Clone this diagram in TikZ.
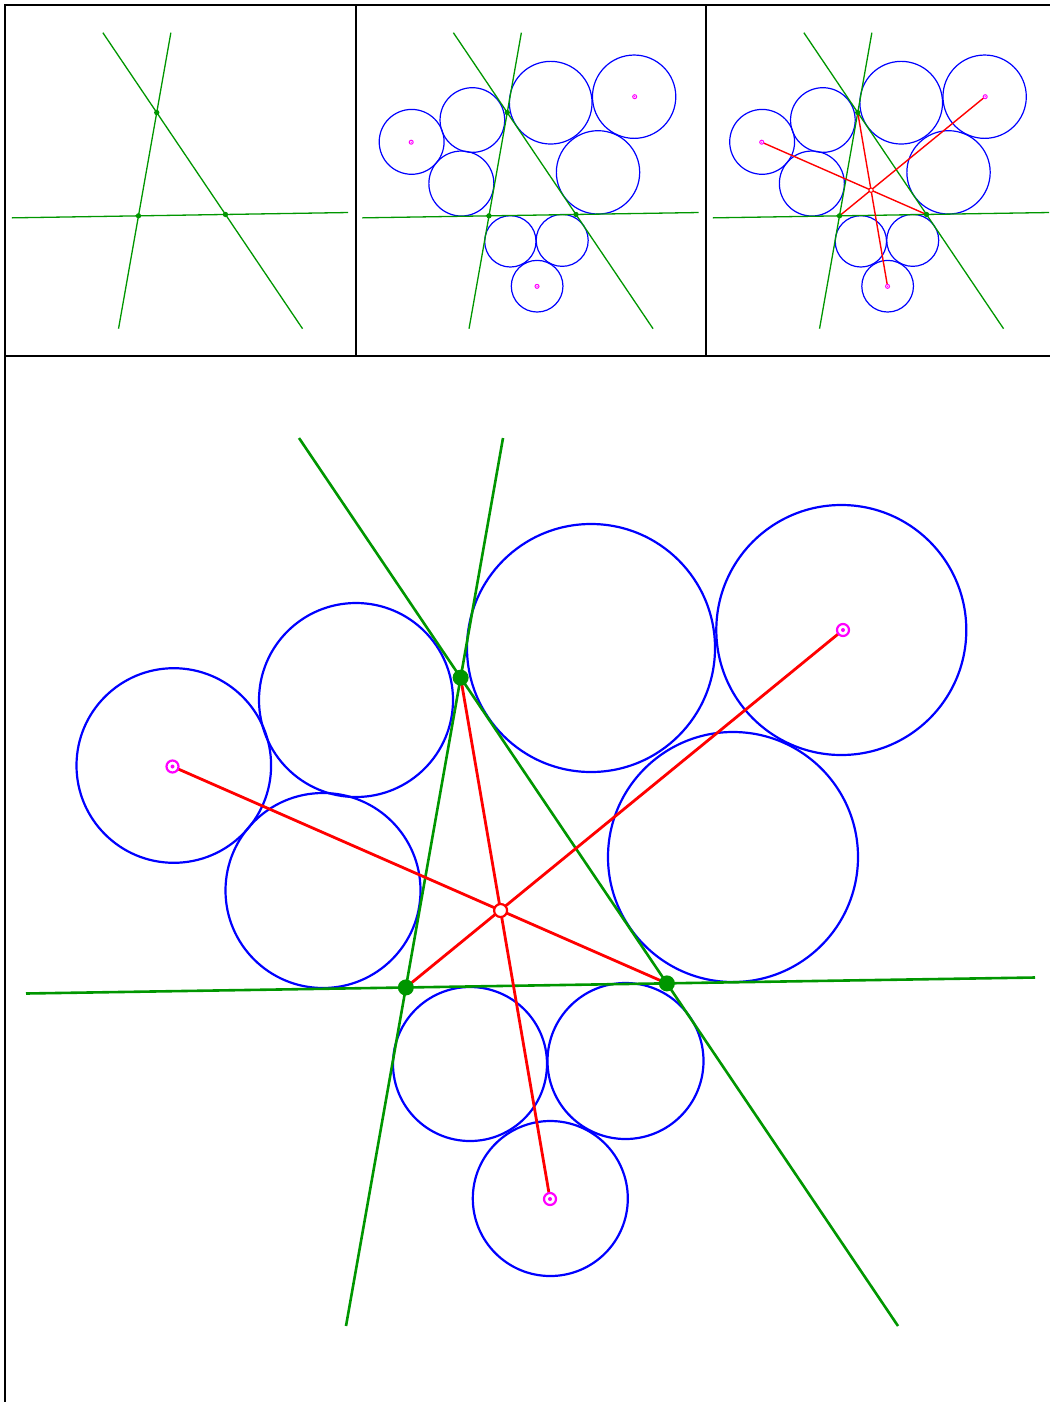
\documentclass[tikz,border=0pt]{standalone}
\usetikzlibrary{calc}
\definecolor{geogreen}{RGB}{0,150,0}
\definecolor{geoblue}{RGB}{0,0,255}
\definecolor{geored}{RGB}{255,0,0}
\definecolor{geomag}{RGB}{255,0,255}
\def\wg{2.6pt}\def\wb{2.2pt}\def\wr{2.8pt}\def\wm{2.2pt}
\tikzset{
  frameline/.style={draw=black, line width=2pt},
  gline/.style={draw=geogreen, line width=\wg},
  bcirc/.style={draw=geoblue, line width=\wb},
  rline/.style={draw=geored, line width=\wr},
  gdot/.style={fill=geogreen},
  mring/.style={draw=geomag, line width=\wm},
  mdot/.style={fill=geomag},
  ocirc/.style={draw=geored, fill=white, line width=\wm},
}
\newcommand{\figpanel}[5]{%
\begin{scope}[shift={(#2,#3)}, scale=#4]
  \coordinate (#1L1a) at (299,438);
  \coordinate (#1L1b) at (898,1326);
  \coordinate (#1L2a) at (503,438);
  \coordinate (#1L2b) at (346,1326);
  \coordinate (#1L3a) at (26,993.5);
  \coordinate (#1L3b) at (1035,977.5);
  \coordinate (#1A) at (intersection of #1L1a--#1L1b and #1L2a--#1L2b);
  \coordinate (#1B) at (intersection of #1L2a--#1L2b and #1L3a--#1L3b);
  \coordinate (#1C) at (intersection of #1L1a--#1L1b and #1L3a--#1L3b);
  \coordinate (#1M1) at (172.5,766.5);
  \coordinate (#1M2) at (843,630);
  \coordinate (#1M3) at (550,1199);
  \ifnum#5>1
    \draw[bcirc] (173.8,765.5) circle (97.3);
    \draw[bcirc] (356,700) circle (97);
    \draw[bcirc] (323,890.5) circle (97.5);
    \draw[bcirc] (591,648) circle (124);
    \draw[bcirc] (841.3,630) circle (125);
    \draw[bcirc] (733,857) circle (125);
    \draw[bcirc] (470,1064) circle (77);
    \draw[bcirc] (625.5,1061) circle (78);
    \draw[bcirc] (550.3,1198.5) circle (77.5);
  \fi
  \draw[gline] (#1L1a) -- (#1L1b);
  \draw[gline] (#1L2a) -- (#1L2b);
  \draw[gline] (#1L3a) -- (#1L3b);
  \ifnum#5>2
    \coordinate (#1O) at (intersection of #1M1--#1C and #1M3--#1A);
    \draw[rline] (#1M1) -- (#1C);
    \draw[rline] (#1M2) -- (#1B);
    \draw[rline] (#1M3) -- (#1A);
  \fi
  \fill[gdot] (#1A) circle (8);
  \fill[gdot] (#1B) circle (8);
  \fill[gdot] (#1C) circle (8);
  \ifnum#5>1
    \foreach \m in {M1,M2,M3}{
      \draw[mring, fill=white] (#1\m) circle (6);
      \fill[mdot] (#1\m) circle (2);
    }
  \fi
  \ifnum#5>2
    \draw[ocirc] (#1O) circle (6.5);
  \fi
\end{scope}}
\begin{document}
\begin{tikzpicture}[x=1pt,y=-1pt]
  \useasboundingbox (0,0) rectangle (1050,1402);
  \def\wg{1.3pt}\def\wb{1.2pt}\def\wr{1.4pt}\def\wm{1pt}
  \figpanel{p}{3.2}{-113.3}{0.33333}{1}
  \figpanel{q}{353.7}{-113.3}{0.33333}{2}
  \figpanel{r}{704.2}{-113.3}{0.33333}{3}
  \def\wg{2.6pt}\def\wb{2.2pt}\def\wr{2.8pt}\def\wm{2.2pt}
  \figpanel{s}{0}{0}{1}{3}
  \draw[frameline] (5,1402) -- (5,5) -- (1050,5);
  \draw[frameline] (5,356) -- (1050,356);
  \draw[frameline] (355.5,5) -- (355.5,356);
  \draw[frameline] (706,5) -- (706,356);
\end{tikzpicture}
\end{document}
